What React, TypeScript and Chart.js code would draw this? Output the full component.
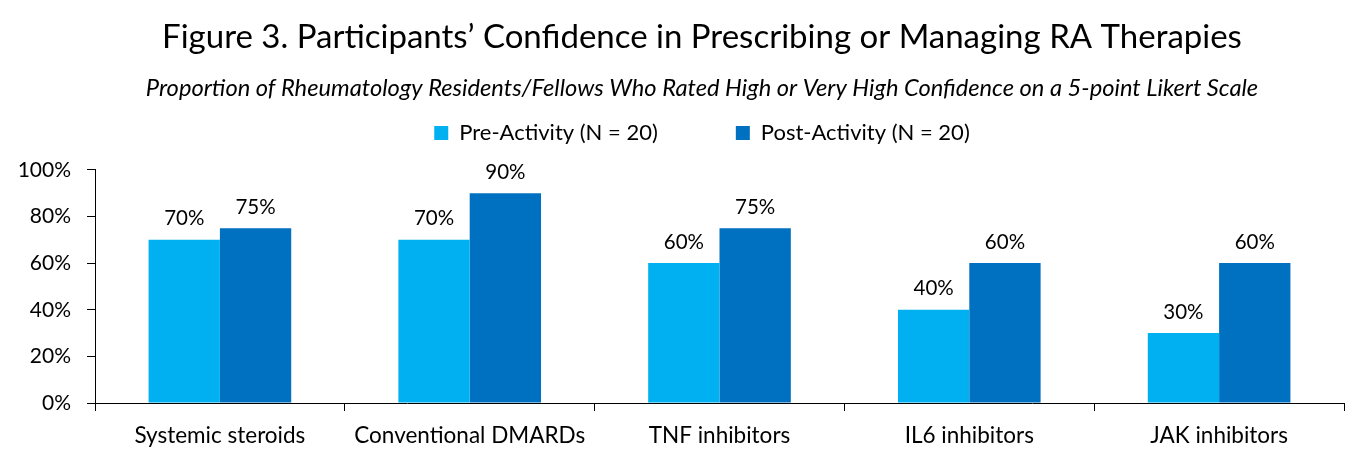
import React, { useEffect, useRef } from "react";
import { Chart, registerables } from "chart.js";

Chart.register(...registerables);

const categories = ["Systemic steroids", "Conventional DMARDs", "TNF inhibitors", "IL6 inhibitors", "JAK inhibitors"];
const preActivity = [70, 70, 60, 40, 30];
const postActivity = [75, 90, 75, 60, 60];
const seriesLabels = ["Pre-Activity (N = 20)", "Post-Activity (N = 20)"];
const titleText = "Figure 3. Participants\u2019 Confidence in Prescribing or Managing RA Therapies";
const subtitleText = "Proportion of Rheumatology Residents/Fellows Who Rated High or Very High Confidence on a 5-point Likert Scale";

const FONT = "Lato, 'Noto Sans', sans-serif";

const valueLabels = {
  id: "valueLabels",
  afterDatasetsDraw(chart: any) {
    const ctx = chart.ctx;
    ctx.save();
    ctx.fillStyle = "#000";
    ctx.font = `20.5px ${FONT}`;
    ctx.textAlign = "center";
    ctx.textBaseline = "middle";
    chart.data.datasets.forEach((ds: any, i: number) => {
      const meta = chart.getDatasetMeta(i);
      meta.data.forEach((el: any, j: number) => {
        ctx.fillText(ds.data[j] + "%", el.x, el.y - 21);
      });
    });
    ctx.restore();
  },
};

export default function App() {
  const ref = useRef<HTMLCanvasElement>(null);
  useEffect(() => {
    document.body.style.margin = "0";
    const chart = new Chart(ref.current!, {
      type: "bar",
      data: {
        labels: categories,
        datasets: [
          { label: seriesLabels[0], data: preActivity, backgroundColor: "#00B0F0", barPercentage: 1, categoryPercentage: 0.571 },
          { label: seriesLabels[1], data: postActivity, backgroundColor: "#0070C0", barPercentage: 1, categoryPercentage: 0.571 },
        ],
      },
      options: {
        animation: false,
        responsive: false,
        maintainAspectRatio: false,
        layout: { padding: { left: 10, right: -28, top: 0, bottom: 8 } },
        plugins: {
          title: {
            display: true,
            text: titleText,
            color: "#000",
            font: { family: FONT, size: 33, weight: "normal", lineHeight: 1.2 },
            padding: { top: 17.2, bottom: -12.8 },
            weight: 2000,
          },
          legend: {
            display: true,
            position: "top",
            fullSize: true,
            weight: 1800,
            labels: {
              color: "#000",
              font: { family: FONT, size: 22 },
              boxWidth: 14,
              boxHeight: 14,
              padding: 78,
            },
          },
          subtitle: {
            display: true,
            text: subtitleText,
            color: "#000",
            font: { family: FONT, size: 23.7, style: "italic", weight: "normal", lineHeight: 1.2 },
            padding: { top: -79.8, bottom: 67.2 },
            weight: 500,
          },
          tooltip: { enabled: false },
        },
        scales: {
          x: {
            grid: { display: true, drawOnChartArea: false, tickLength: 8, color: "#000", offset: true },
            border: { display: true, color: "#000" },
            ticks: { color: "#000", font: { family: FONT, size: 22.5 }, padding: 11 },
          },
          y: {
            min: 0,
            max: 100,
            grid: { display: true, drawOnChartArea: false, tickLength: 8, color: "#000" },
            border: { display: true, color: "#000" },
            ticks: {
              stepSize: 20,
              color: "#000",
              font: { family: FONT, size: 21 },
              padding: 16,
              callback: (v: any) => v + "%",
            },
            afterFit: (s: any) => {
              s.width = 85;
            },
          },
          y2: {
            position: "right",
            display: true,
            grid: { display: false, drawTicks: false },
            border: { display: false },
            ticks: { display: false },
            afterFit: (s: any) => {
              s.width = 50;
            },
          },
        },
      },
      plugins: [valueLabels],
    });
    return () => chart.destroy();
  }, []);
  return (
    <div style={{ width: 1366, height: 468 }}>
      <canvas ref={ref} width={1366} height={468} style={{ width: 1366, height: 468, display: "block" }} />
    </div>
  );
}
